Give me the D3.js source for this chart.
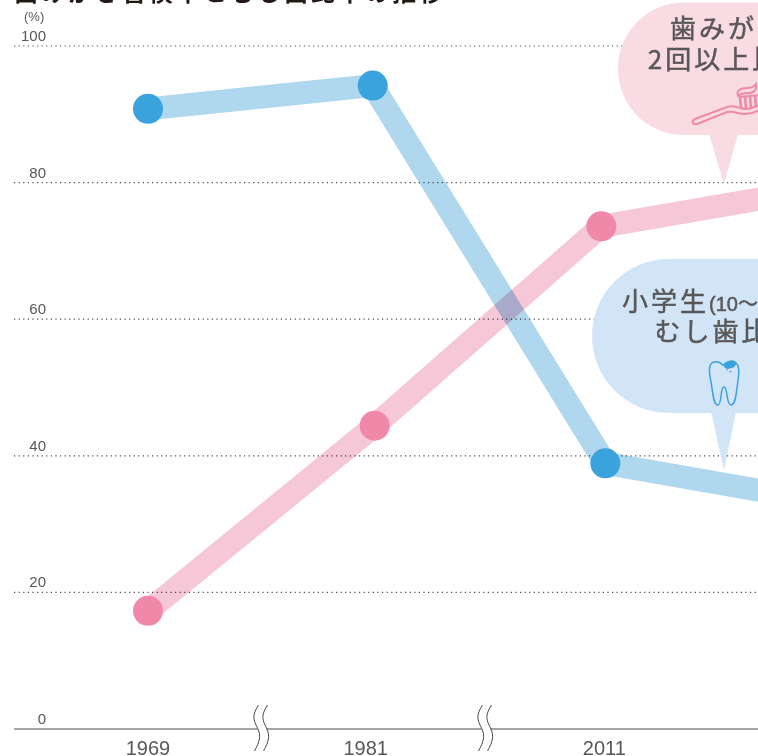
<!DOCTYPE html>
<html lang="ja">
<head>
<meta charset="UTF-8">
<title>歯みがき習慣率とむし歯比率の推移</title>
<script src="https://d3js.org/d3.v7.min.js"></script>
<style>
    body { margin: 0; background: #fff; overflow: hidden; }
    svg { display: block; }
    .num { font-family: "Liberation Sans", sans-serif; fill: #595757; }
    .jp { font-family: "Noto Sans CJK JP", sans-serif; fill: #595757; stroke: #595757; stroke-width: 0.5px; letter-spacing: 3px; }
</style>
</head>
<body>
<div id="chart"></div>
<script>
    const years = ["1969", "1981", "2011", "2016"];
    const yTicks = [0, 20, 40, 60, 80, 100];
    // the last year runs off the right edge
    const cavityRate = [90.8, 94.2, 38.9, 33.1];
    const brushRate = [17.3, 44.4, 73.6, 79.4];
    // the points in the original are not quite on a common x
    const cavityNudge = [0, -3, 2, 0];
    const brushNudge = [0, -1, -2, 0];
    const labelNudge = [0, -10, 1, 0];

    const width = 758;
    const height = 756;

    const x = d3.scalePoint().domain(years).range([148, 831]);
    const y = d3.scaleLinear().domain([0, 100]).range([729, 46]);

    const svg = d3.select("#chart").append("svg")
        .attr("width", width)
        .attr("height", height);

    // title, cut off by the top of the crop
    svg.append("text")
        .attr("class", "jp")
        .attr("x", 14).attr("y", 1)
        .style("font-size", "24px").style("font-weight", 700).style("fill", "#231815").style("stroke", "none")
        .text("歯みがき習慣率とむし歯比率の推移");

    // dotted grid
    svg.append("g").selectAll("line")
        .data(yTicks.filter(d => d > 0))
        .enter().append("line")
        .attr("x1", 14).attr("x2", width)
        .attr("y1", d => y(d)).attr("y2", d => y(d))
        .attr("stroke", "#4a4a4a")
        .attr("stroke-width", 1.2)
        .attr("stroke-dasharray", "1.2 3.4");

    // y labels
    svg.append("g").selectAll("text")
        .data(yTicks)
        .enter().append("text")
        .attr("class", "num")
        .attr("x", 46)
        .attr("y", d => y(d) - 5)
        .attr("text-anchor", "end")
        .style("font-size", "15px")
        .text(d => d);

    svg.append("text")
        .attr("class", "num")
        .attr("x", 24).attr("y", 21)
        .style("font-size", "13px")
        .text("(%)");

    // baseline
    svg.append("line")
        .attr("x1", 14).attr("x2", width)
        .attr("y1", y(0)).attr("y2", y(0))
        .attr("stroke", "#8a8583")
        .attr("stroke-width", 1.6);

    // axis break marks between the years
    const breaks = [262, 486];
    const breakG = svg.append("g").selectAll("g")
        .data(breaks)
        .enter().append("g")
        .attr("transform", d => `translate(${d},0)`);
    breakG.append("path")
        .attr("d", "M-4 705 C-12 716 -9 720 -5 728 C-1 736 -3 742 -8 751 L1 751 C6 742 8 736 4 728 C0 720 -3 716 5 705 Z")
        .attr("fill", "#fff");
    breakG.selectAll("path.w")
        .data([-4.5, 4.5])
        .enter().append("path")
        .attr("class", "w")
        .attr("d", d => `M${d + 1} 705 C${d - 6} 716 ${d - 4} 720 ${d} 728 C${d + 4} 736 ${d + 2} 742 ${d - 3} 751`)
        .attr("fill", "none")
        .attr("stroke", "#4c4948")
        .attr("stroke-width", 1);

    // year labels
    svg.append("g").selectAll("text")
        .data(years)
        .enter().append("text")
        .attr("class", "num")
        .attr("x", (d, i) => x(d) + labelNudge[i])
        .attr("y", 755)
        .attr("text-anchor", "middle")
        .style("font-size", "20px")
        .text(d => d);

    // series
    const series = [
        { values: brushRate, nudge: brushNudge, line: "#f6c8d7", dot: "#ef88a9" },
        { values: cavityRate, nudge: cavityNudge, line: "#afd8ef", dot: "#3aa2dd" }
    ];

    series.forEach(s => {
        const line = d3.line()
            .x((d, i) => x(years[i]) + s.nudge[i])
            .y(d => y(d));
        svg.append("path")
            .attr("d", line(s.values))
            .attr("fill", "none")
            .attr("stroke", s.line)
            .attr("stroke-width", 23)
            .style("mix-blend-mode", "multiply");
    });
    series.forEach(s => {
        svg.append("g").selectAll("circle")
            .data(s.values)
            .enter().append("circle")
            .attr("cx", (d, i) => x(years[i]) + s.nudge[i])
            .attr("cy", d => y(d))
            .attr("r", 15)
            .attr("fill", s.dot);
    });

    // speech bubbles
    const pinkFill = "#f9dbe3";
    const blueFill = "#d2e5f7";
    svg.append("rect").attr("x", 618).attr("y", 2.5).attr("width", 218).attr("height", 132.5).attr("rx", 66).attr("fill", pinkFill);
    svg.append("path").attr("d", "M709 134 L738 134 L724 184 Z").attr("fill", pinkFill);
    svg.append("rect").attr("x", 592).attr("y", 259).attr("width", 268).attr("height", 154).attr("rx", 77).attr("fill", blueFill);
    svg.append("path").attr("d", "M711 412 L736 412 L724 470 Z").attr("fill", blueFill);

    const bubbleText = (txt, px, py, anchor) => svg.append("text")
        .attr("class", "jp")
        .attr("x", px).attr("y", py)
        .attr("text-anchor", anchor)
        .style("font-size", "26px")
        .text(txt);

    bubbleText("歯みがき", 728, 38, "middle");
    bubbleText("2回以上比率", 729, 69, "middle");
    const first = bubbleText("小学生", 622, 311, "start");
    first.append("tspan")
        .style("font-family", "'Liberation Sans', 'Noto Sans CJK JP', sans-serif")
        .style("font-size", "20px").style("letter-spacing", "0")
        .text("(10〜12歳)");
    bubbleText("むし歯比率", 727, 341, "middle");

    // toothbrush
    const brush = svg.append("g").attr("fill", "none").attr("stroke", "#f08aa9").attr("stroke-width", 2);
    brush.append("path").attr("d", "M695 119 L727 107 C732 105 736 107 740 108 C745 110 750 109 760 105 L760 110 C750 115 744 115 738 113 C734 112 731 111 727 112 L697 124 C692 125 691 121 695 119 Z");
    brush.append("path").attr("d", "M739 97 L760 95").attr("stroke-width", 2);
    brush.append("path").attr("d", "M740 97 L741 108 M745 96 L746 109 M750 96 L751 109 M755 95 L756 107").attr("stroke-width", 2.6);
    brush.append("path").attr("d", "M738 96 C736 90 741 88 747 88 C751 88 754 87 756 84 C757 90 754 93 748 93 C744 93 741 93 738 96 Z");

    // tooth
    const tooth = svg.append("g");
    tooth.append("path")
        .attr("d", "M723 365 C719 361 712 360 710 366 C708 372 711 380 712 388 C713 396 714 405 718 405 C722 405 720 387 724 387 C728 387 726 405 731 405 C735 405 736 396 737 388 C738 380 740 372 738 366 C736 360 728 361 723 365 Z")
        .attr("fill", "none")
        .attr("stroke", "#3aa2dd").attr("stroke-width", 1.5);
    tooth.append("ellipse").attr("cx", 730).attr("cy", 364.5).attr("rx", 6.5).attr("ry", 4).attr("transform", "rotate(-15 730 364.5)").attr("fill", "#3aa2dd");
    tooth.append("circle").attr("cx", 727).attr("cy", 369.5).attr("r", 0.9).attr("fill", "#6f9fd8");
    tooth.append("circle").attr("cx", 730.5).attr("cy", 371.5).attr("r", 1).attr("fill", "#6f9fd8");
</script>
</body>
</html>
